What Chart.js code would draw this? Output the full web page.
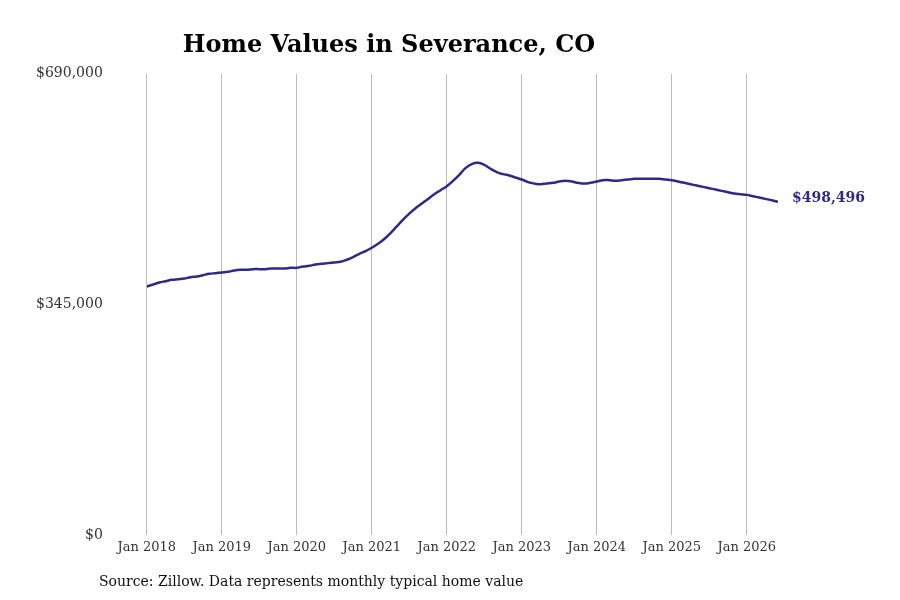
<!DOCTYPE html>
<html>
<head>
<meta charset="utf-8">
<script src="https://cdn.jsdelivr.net/npm/chart.js@4.4.0/dist/chart.umd.min.js"></script>
<style>
  body { margin: 0; background: #fff; }
  #wrap { width: 900px; height: 600px; }
</style>
</head>
<body>
<div id="wrap"><canvas id="myChart" width="900" height="600"></canvas></div>
<script>
// monthly typical home value, Jan 2018 .. Jun 2026 (thousands)
var values2018 = [372, 375, 378, 380, 382, 383, 384, 386, 387, 389, 391, 392];
var values2019 = [393, 394, 396, 397, 397, 398, 398, 398, 399, 399, 399, 400];
var values2020 = [400, 402, 403, 405, 406, 407, 408, 409, 412, 416, 421, 425];
var values2021 = [430, 436, 443, 452, 462, 472, 481, 489, 496, 503, 510, 516];
var values2022 = [522, 530, 539, 549, 555, 557, 554, 548, 543, 540, 538, 535];
var values2023 = [532, 528, 526, 525, 526, 527, 529, 530, 529, 527, 526, 527];
var values2024 = [529, 531, 531, 530, 531, 532, 533, 533, 533, 533, 533, 532];
var values2025 = [531, 529, 527, 525, 523, 521, 519, 517, 515, 513, 511, 510];
var values2026 = [509, 507, 505, 503, 501, 498.496];
var yTicks = [0, 345000, 690000];
var lastLabel = '$498,496';

var allValues = [].concat(values2018, values2019, values2020, values2021, values2022,
  values2023, values2024, values2025, values2026);
var points = allValues.map(function (v, i) { return { x: i, y: v * 1000 }; });

var lineColor = '#2e2a85';
var fontFam = "'DejaVu Serif', serif";

var extras = {
  id: 'extras',
  afterDraw: function (chart) {
    var ctx = chart.ctx;
    var meta = chart.getDatasetMeta(0);
    var last = meta.data[meta.data.length - 1];
    ctx.save();
    ctx.font = 'bold 14px ' + fontFam;
    ctx.fillStyle = lineColor;
    ctx.textBaseline = 'middle';
    ctx.fillText(lastLabel, last.x + 14, last.y - 4);
    ctx.font = '14px ' + fontFam;
    ctx.fillStyle = '#111';
    ctx.fillText('Source: Zillow. Data represents monthly typical home value', 99, 582);
    ctx.restore();
  }
};

var ctx = document.getElementById('myChart').getContext('2d');
var myChart = new Chart(ctx, {
  type: 'line',
  data: {
    datasets: [{
      data: points,
      borderColor: lineColor,
      borderWidth: 2.5,
      pointRadius: 0,
      tension: 0.4,
      fill: false
    }]
  },
  options: {
    responsive: false,
    animation: false,
    layout: { padding: { left: 0, right: 122, top: 0, bottom: 41 } },
    plugins: {
      legend: { display: false },
      tooltip: { enabled: false },
      title: {
        display: true,
        text: 'Home Values in Severance, CO',
        color: '#000',
        font: { family: fontFam, size: 24, weight: 'bold' },
        padding: { top: 31, bottom: 14 }
      }
    },
    scales: {
      x: {
        type: 'linear',
        min: 0,
        max: allValues.length - 1,
        afterBuildTicks: function (scale) {
          var t = [];
          for (var v = 0; v <= 96; v += 12) t.push({ value: v });
          scale.ticks = t;
        },
        ticks: {
          color: '#333',
          font: { family: fontFam, size: 13 },
          padding: 4,
          maxRotation: 0,
          callback: function (v) { return 'Jan ' + (2018 + v / 12); }
        },
        grid: { color: '#bbb', drawTicks: false },
        border: { display: false }
      },
      y: {
        min: 0,
        max: 690000,
        afterBuildTicks: function (scale) {
          scale.ticks = yTicks.map(function (v) { return { value: v }; });
        },
        ticks: {
          color: '#333',
          font: { family: fontFam, size: 14 },
          padding: 36,
          callback: function (v) { return '$' + v.toLocaleString('en-US'); }
        },
        grid: { display: false },
        border: { display: false }
      }
    }
  },
  plugins: [extras]
});
</script>
</body>
</html>
